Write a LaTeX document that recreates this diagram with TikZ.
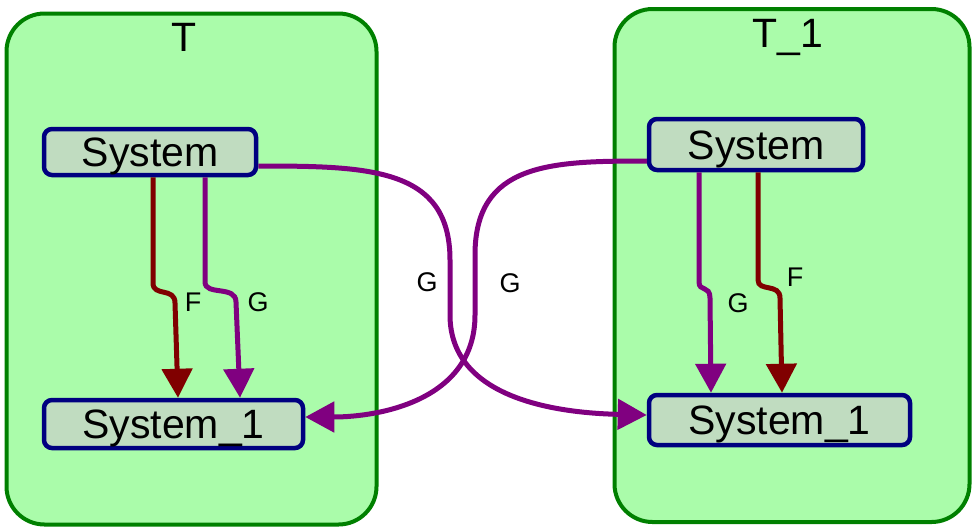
\documentclass[tikz,border=0pt]{standalone}
\usepackage{fontspec}
\setmainfont{Liberation Sans}
\usetikzlibrary{arrows.meta}
\definecolor{cfill}{RGB}{170,252,170}
\definecolor{cline}{RGB}{0,128,0}
\definecolor{nfill}{RGB}{192,220,192}
\definecolor{nline}{RGB}{0,0,128}
\definecolor{ered}{RGB}{128,0,0}
\definecolor{epurple}{RGB}{128,0,128}
\begin{document}
\begin{tikzpicture}[x=1pt,y=-1pt,
  cluster/.style={draw=cline, fill=cfill, line width=4pt, rounded corners=38pt, inner sep=0pt, outer sep=0pt},
  clabel/.style={font=\fontsize{41}{41}\selectfont, text height=29pt, text depth=0pt, inner sep=0pt},
  box/.style={draw=nline, fill=nfill, line width=4.5pt, rounded corners=8pt, inner sep=0pt,
    font=\fontsize{41}{41}\selectfont, text height=29pt, text depth=0pt},
  elabel/.style={font=\fontsize{27}{27}\selectfont, text height=19pt, text depth=0pt, inner sep=0pt},
  tip/.style={-{Triangle[length=29pt,width=30pt]}},
  fedge/.style={draw=ered, line width=5pt, tip},
  gedge/.style={draw=epurple, line width=5pt, tip}
]
\useasboundingbox (0,0) rectangle (974,531);
% clusters
\node[cluster, minimum width=370pt, minimum height=511pt] (T) at (191.5,269) {};
\node[cluster, minimum width=355pt, minimum height=513pt] (T1) at (792,265.5) {};
\node[clabel] (Tl) at (184,37) {T};
\node[clabel] (T1l) at (788,33) {T\_1};
% nodes
\node[box, minimum width=212pt, minimum height=46pt] (ls) at (150,152) {System};
\node[box, minimum width=259pt, minimum height=48pt] (ls1) at (173.5,424) {System\_1};
\node[box, minimum width=214pt, minimum height=51pt] (rs) at (756,144.5) {System};
\node[box, minimum width=261pt, minimum height=50pt] (rs1) at (779.5,420) {System\_1};
% edges inside T
\draw[fedge] ([xshift=3pt]ls.south) -- (153,283) .. controls (153,297) and (175,287) .. (175,303) -- ([xshift=4.5pt]ls1.north);
\draw[gedge] ([xshift=55pt]ls.south) -- (205,282) .. controls (205,296) and (236,285) .. (236,302) -- ([xshift=66.5pt]ls1.north);
\node[elabel] (lF) at (193,302) {F};
\node[elabel] (lG) at (258,302) {G};
% edges inside T_1
\draw[gedge] ([xshift=-57pt]rs.south) -- (699,282) .. controls (699,292) and (710,285) .. (710,298) -- ([xshift=-68.5pt]rs1.north);
\draw[fedge] ([xshift=2pt]rs.south) -- (758,280) .. controls (758,292) and (780,283) .. (780,298) -- ([xshift=2.5pt]rs1.north);
\node[elabel] (rG) at (738,303) {G};
\node[elabel] (rF) at (795,277) {F};
% crossing edges
\draw[gedge] ([yshift=-14pt]ls.east) .. controls (370,166) and (450,168) .. (450,260) -- (450,315) .. controls (450,400) and (560,413) .. ([yshift=5pt]rs1.west);
\draw[gedge] ([yshift=-16.5pt]rs.west) .. controls (550,161) and (475,163) .. (475,255) -- (475,315) .. controls (475,400) and (380,417) .. ([yshift=7pt]ls1.east);
\node[elabel] (mG1) at (427,282) {G};
\node[elabel] (mG2) at (510,283) {G};
\end{tikzpicture}
\end{document}
